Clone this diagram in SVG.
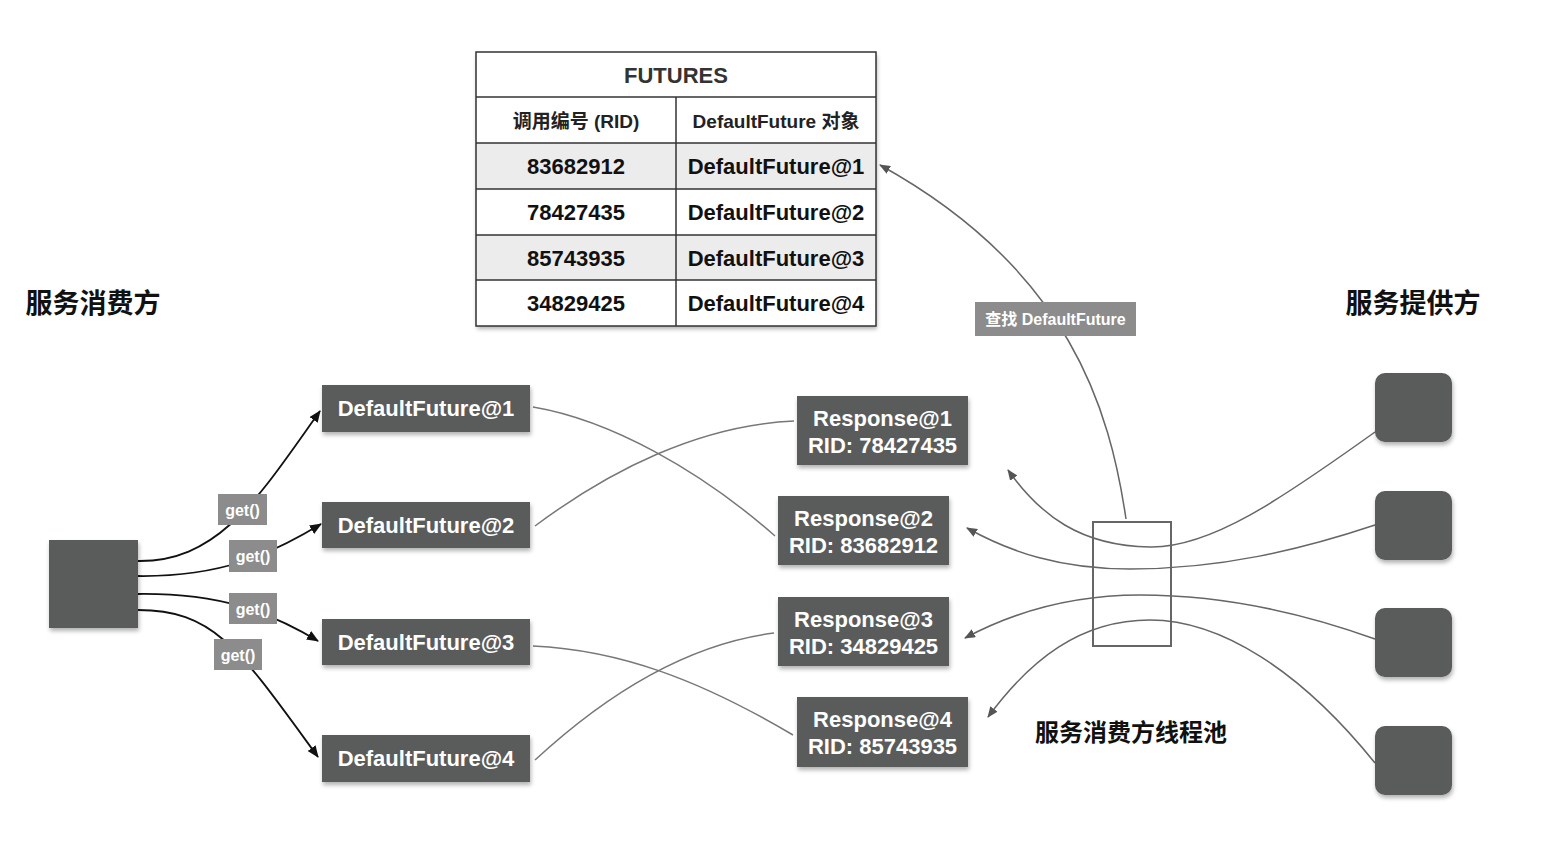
<svg xmlns="http://www.w3.org/2000/svg" width="1552" height="842" viewBox="0 0 1552 842">
<style>
text{font-family:"Liberation Sans","Noto Sans CJK SC",sans-serif;font-weight:bold;text-anchor:middle;dominant-baseline:central}
.node{fill:#5a5b5c;filter:url(#sh)}
.nt{fill:#fff;font-size:22px}
.lbl{fill:#8c8c8c}
.lt{fill:#fff;font-size:16px}
.blk{fill:none;stroke:#111;stroke-width:1.8;marker-end:url(#ab)}
.gry{fill:none;stroke:#666;stroke-width:1.5;marker-end:url(#ag)}
.cx{fill:none;stroke:#777;stroke-width:1.5}
.td{fill:#111;font-size:22px}
.th{fill:#222;font-size:19px}
.title{fill:#111;font-size:27px}
</style>
<defs>
<filter id="sh" x="-20%" y="-20%" width="140%" height="150%"><feDropShadow dx="1" dy="3" stdDeviation="2" flood-color="#000" flood-opacity="0.3"/></filter>
<marker id="ab" markerWidth="12" markerHeight="10" refX="11" refY="5" orient="auto" markerUnits="userSpaceOnUse"><path d="M0,0 L12,5 L0,10 z" fill="#111"/></marker>
<marker id="ag" markerWidth="11" markerHeight="9" refX="10" refY="4.5" orient="auto" markerUnits="userSpaceOnUse"><path d="M0,0 L11,4.5 L0,9 z" fill="#555"/></marker>
</defs>
<rect width="1552" height="842" fill="#fff"/>

<g id="table">
<rect x="476" y="52" width="400" height="274" fill="#fff" filter="url(#sh)"/>
<rect x="476" y="143" width="400" height="46" fill="#ececec"/>
<rect x="476" y="235" width="400" height="45" fill="#ececec"/>
<g stroke="#333" stroke-width="1.5" fill="none">
<rect x="476" y="52" width="400" height="274"/>
<line x1="476" y1="97" x2="876" y2="97"/>
<line x1="476" y1="143" x2="876" y2="143"/>
<line x1="476" y1="189" x2="876" y2="189"/>
<line x1="476" y1="235" x2="876" y2="235"/>
<line x1="476" y1="280" x2="876" y2="280"/>
<line x1="676" y1="97" x2="676" y2="326"/>
</g>
<text x="676" y="75" style="fill:#333;font-size:22px">FUTURES</text>
<text x="576" y="121" class="th">调用编号 (RID)</text>
<text x="776" y="121" class="th">DefaultFuture 对象</text>
<text x="576" y="166" class="td">83682912</text>
<text x="776" y="166" class="td">DefaultFuture@1</text>
<text x="576" y="212" class="td">78427435</text>
<text x="776" y="212" class="td">DefaultFuture@2</text>
<text x="576" y="258" class="td">85743935</text>
<text x="776" y="258" class="td">DefaultFuture@3</text>
<text x="576" y="303" class="td">34829425</text>
<text x="776" y="303" class="td">DefaultFuture@4</text>
</g>

<g id="title-consumer"><text x="93" y="304" class="title">服务消费方</text></g>
<g id="title-provider"><text x="1413" y="304" class="title">服务提供方</text></g>
<g id="title-pool"><text x="1131" y="732" style="fill:#111;font-size:24px">服务消费方线程池</text></g>

<g id="connectors">
<path class="blk" d="M138,561 C220,562 260,495 320,411"/>
<path class="blk" d="M138,576 C220,577 270,555 321,524"/>
<path class="blk" d="M138,594 C220,593 270,612 318,641"/>
<path class="blk" d="M138,610 C215,610 240,650 318,757"/>
<path class="cx" d="M533,407 C610,420 700,470 775,536"/>
<path class="cx" d="M535,526 C610,470 700,425 794,421"/>
<path class="cx" d="M533,646 C620,650 700,680 793,735"/>
<path class="cx" d="M535,760 C600,700 680,645 774,633"/>
<path class="gry" d="M1375,432 C1280,500 1210,548 1150,547 C1080,546 1040,515 1008,470"/>
<path class="gry" d="M1375,525 C1300,550 1220,569 1130,569 C1060,569 1010,552 967,528"/>
<path class="gry" d="M1375,639 C1300,612 1220,595 1140,595 C1070,595 1010,614 965,638"/>
<path class="gry" d="M1375,763 C1300,670 1220,620 1150,620 C1080,620 1030,660 988,717"/>
<path class="gry" d="M1126,519 C1110,410 1070,270 880,165"/>
</g>

<g id="get1"><rect class="lbl" x="218" y="494" width="49" height="31"/><text class="lt" x="242.5" y="510">get()</text></g>
<g id="get2"><rect class="lbl" x="229" y="540" width="48" height="32"/><text class="lt" x="253" y="556">get()</text></g>
<g id="get3"><rect class="lbl" x="229" y="593" width="48" height="31"/><text class="lt" x="253" y="609">get()</text></g>
<g id="get4"><rect class="lbl" x="214" y="639" width="48" height="31"/><text class="lt" x="238" y="655">get()</text></g>
<g id="lookup"><rect class="lbl" x="975" y="302" width="161" height="34"/><text class="lt" x="1055.5" y="319">查找 DefaultFuture</text></g>

<g id="consumer"><rect class="node" x="49" y="540" width="89" height="88"/></g>

<g id="df1"><rect class="node" x="322" y="385" width="208" height="47"/><text class="nt" x="426" y="408">DefaultFuture@1</text></g>
<g id="df2"><rect class="node" x="322" y="502" width="208" height="46"/><text class="nt" x="426" y="525">DefaultFuture@2</text></g>
<g id="df3"><rect class="node" x="322" y="619" width="208" height="46"/><text class="nt" x="426" y="642">DefaultFuture@3</text></g>
<g id="df4"><rect class="node" x="322" y="735" width="208" height="47"/><text class="nt" x="426" y="758">DefaultFuture@4</text></g>

<g id="r1"><rect class="node" x="797" y="396" width="171" height="69"/><text class="nt" x="882.5" y="418">Response@1</text><text class="nt" x="882.5" y="445">RID: 78427435</text></g>
<g id="r2"><rect class="node" x="778" y="496" width="171" height="69"/><text class="nt" x="863.5" y="518">Response@2</text><text class="nt" x="863.5" y="545">RID: 83682912</text></g>
<g id="r3"><rect class="node" x="778" y="597" width="171" height="69"/><text class="nt" x="863.5" y="619">Response@3</text><text class="nt" x="863.5" y="646">RID: 34829425</text></g>
<g id="r4"><rect class="node" x="797" y="697" width="171" height="70"/><text class="nt" x="882.5" y="719">Response@4</text><text class="nt" x="882.5" y="746">RID: 85743935</text></g>

<g id="pool"><rect x="1093" y="522" width="78" height="124" fill="none" stroke="#666" stroke-width="2"/></g>

<g id="p1"><rect class="node" x="1375" y="373" width="77" height="69" rx="10"/></g>
<g id="p2"><rect class="node" x="1375" y="491" width="77" height="69" rx="10"/></g>
<g id="p3"><rect class="node" x="1375" y="608" width="77" height="69" rx="10"/></g>
<g id="p4"><rect class="node" x="1375" y="726" width="77" height="69" rx="10"/></g>
</svg>
